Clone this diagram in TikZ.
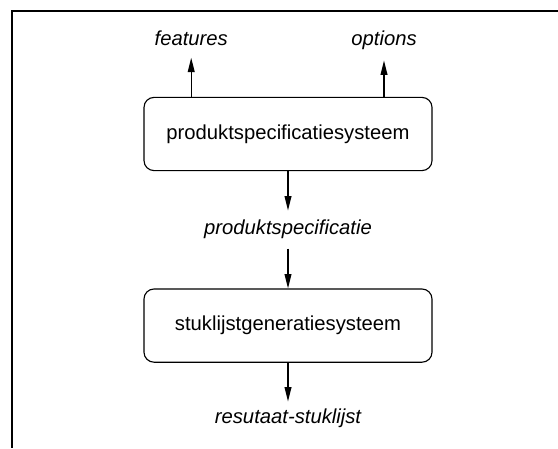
\documentclass[tikz,border=0pt]{standalone}
\usepackage{fontspec}
\setmainfont{Liberation Sans}
\usetikzlibrary{arrows.meta}

\newcommand{\diafont}{\fontsize{14.4}{17.3}\selectfont}

\tikzset{
    sysbox/.style={draw, line width=0.8pt, rounded corners=0.25cm, minimum width=7.2cm, minimum height=1.83cm, font=\diafont},
    lbl/.style={inner sep=0pt, font=\diafont\itshape},
    flow/.style={-{Triangle[length=0.36cm,width=0.17cm]}, line width=1pt}
}

\begin{document}
\begin{tikzpicture}
    \useasboundingbox (0,0) rectangle (13.95,11.2);

    % Frame (top and left edge only)
    \draw[line width=1pt] (13.95,10.925) -- (0.3,10.925) -- (0.3,0);

    % Systems
    \node[sysbox] (prod) at (7.2,7.85) {produktspecificatiesysteem};
    \node[sysbox] (stuk) at (7.2,3.06) {stuklijstgeneratiesysteem};

    % Data
    \node[lbl] (feat) at (4.78,10.25) {features};
    \node[lbl] (opt) at (9.6,10.2) {options};
    \node[lbl] (spec) at (7.2,5.475) {produktspecificatie};
    \node[lbl] (res) at (7.2,0.74) {resutaat-stuklijst};

    % Flows
    \draw[flow, shorten >=0.3cm] (feat.south |- prod.north) -- (feat.south);
    \draw[flow, shorten >=0.27cm] (opt.south |- prod.north) -- (opt.south);
    \draw[flow, shorten >=0.22cm] (prod) -- (spec);
    \draw[flow, shorten <=0.25cm] (spec) -- (stuk);
    \draw[flow, shorten >=0.18cm] (stuk) -- (res);
\end{tikzpicture}
\end{document}
